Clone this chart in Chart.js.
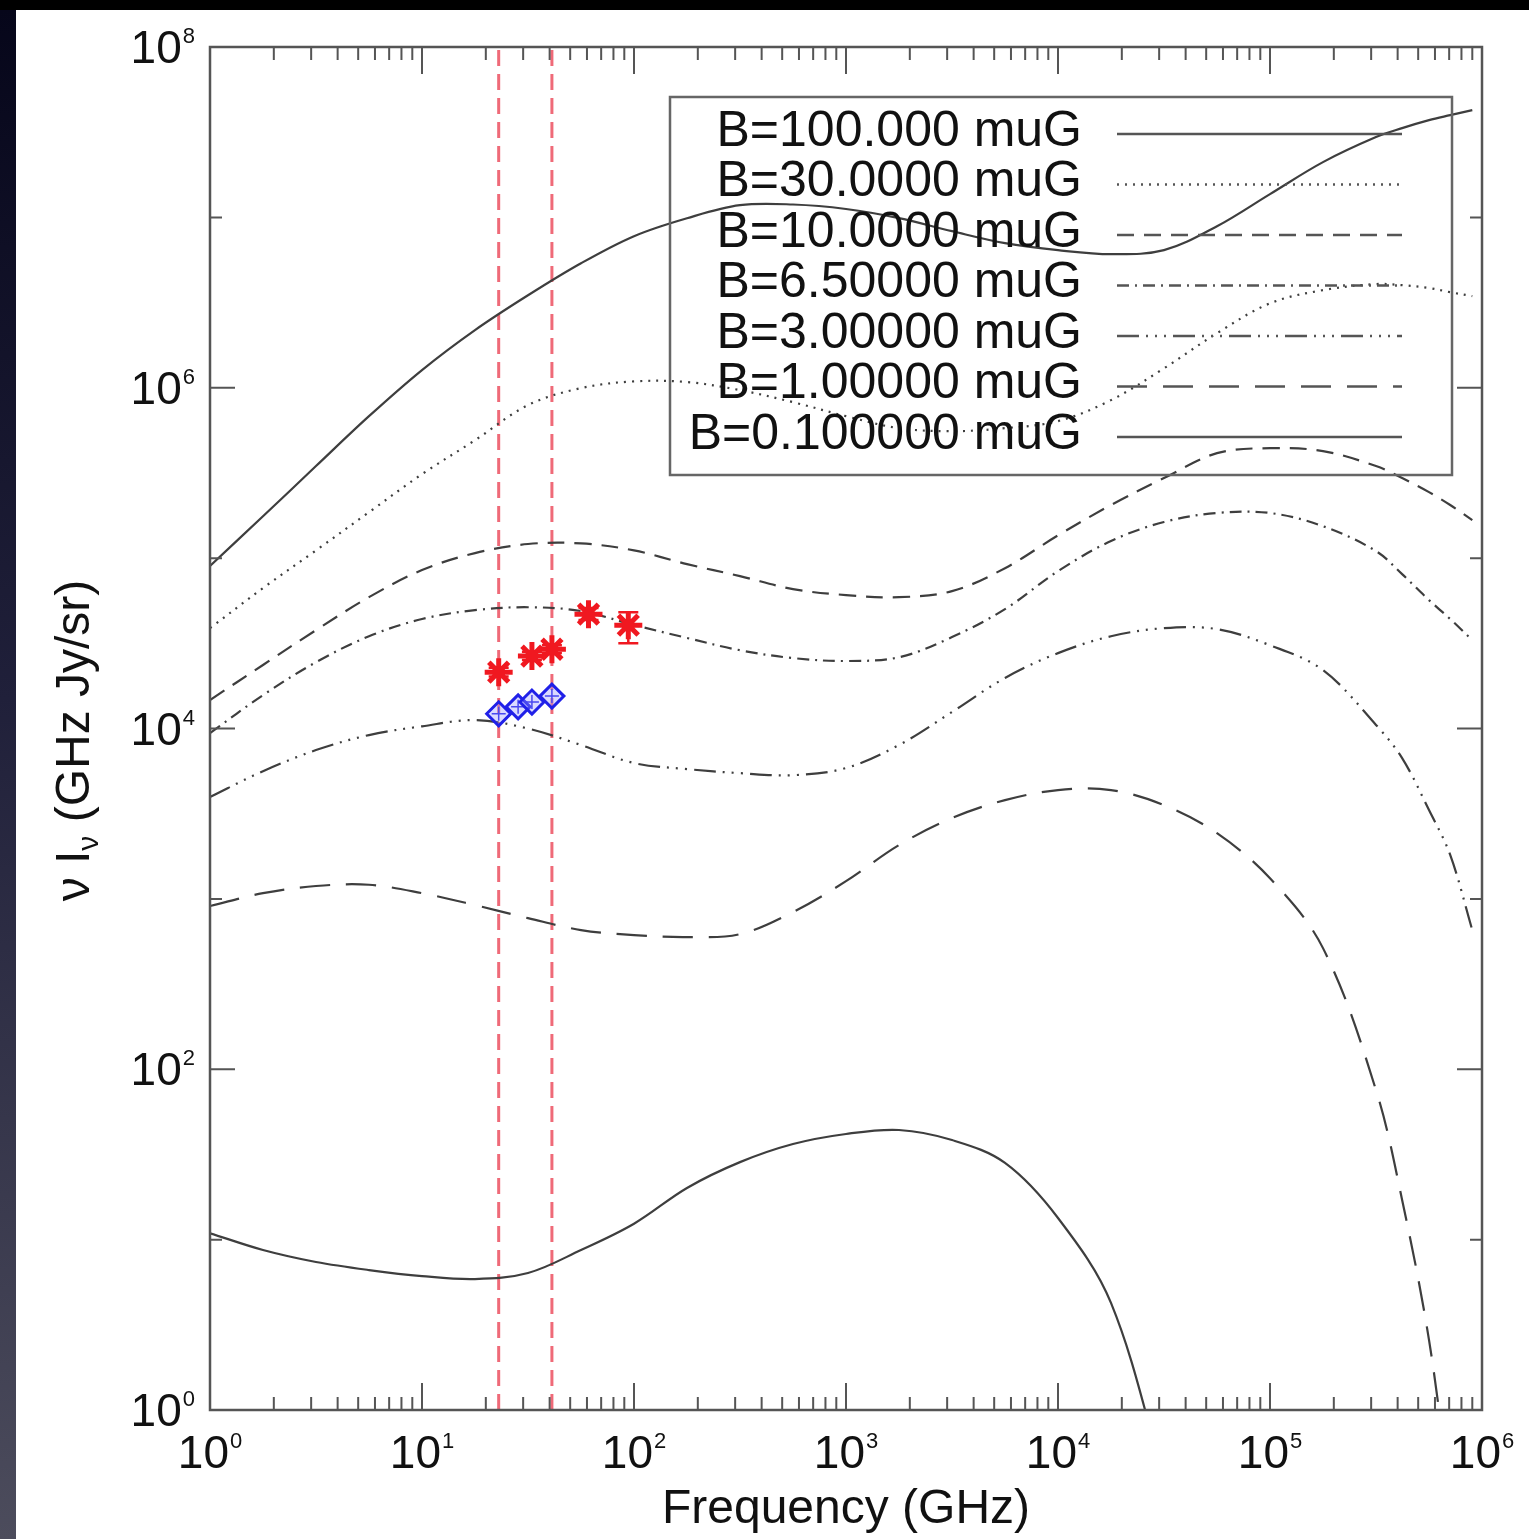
<!DOCTYPE html>
<html>
<head>
<meta charset="utf-8">
<script src="https://cdn.jsdelivr.net/npm/chart.js@4.4.1/dist/chart.umd.min.js"></script>
<style>
  html, body { margin: 0; padding: 0; background: #000; }
  #wrap { position: relative; width: 1529px; height: 1539px; overflow: hidden; }
  #strip { position: absolute; left: 0; top: 10px; width: 16px; bottom: 0;
           background: linear-gradient(#06061a, #20203a 45%, #4c4c5c); }
  #paper { position: absolute; left: 16px; top: 10px; right: 0; bottom: 0; background: #fff; }
  canvas { position: absolute; left: 0; top: 0; }
</style>
</head>
<body>
<div id="wrap">
  <div id="strip"></div>
  <div id="paper"></div>
  <canvas id="sedChart" width="1529" height="1539"></canvas>
</div>
<script>
// frequency samples (GHz) shared by the model curves
const freq = [1, 1.778, 3.162, 5.623, 10, 17.78, 31.62, 56.23, 100, 177.8, 316.2, 562.3,
  1000, 1778, 3162, 5623, 1e4, 1.778e4, 3.162e4, 5.623e4, 1e5, 1.778e5, 3.162e5, 4.2e5,
  5.623e5, 7.08e5, 9e5];

// nu I_nu (GHz Jy/sr) for each field strength
const b100 = [9.0e4, 1.76e5, 3.47e5, 6.81e5, 1.27e6, 2.18e6, 3.49e6, 5.38e6, 7.76e6, 9.89e6,
  1.18e7, 1.19e7, 1.12e7, 9.9e6, 8.3e6, 7.06e6, 6.42e6, 6.08e6, 6.42e6, 8.87e6, 1.37e7,
  2.11e7, 2.96e7, 3.34e7, 3.72e7, 3.98e7, 4.26e7];
const b30 = [3.88e4, 6.67e4, 1.11e5, 1.86e5, 3.11e5, 4.92e5, 7.91e5, 9.95e5, 1.09e6, 1.08e6,
  9.68e5, 8.23e5, 6.81e5, 5.79e5, 5.56e5, 5.79e5, 6.37e5, 8.46e5, 1.30e6, 2.09e6, 3.13e6,
  3.74e6, 4.06e6, 4.00e6, 3.85e6, 3.64e6, 3.45e6];
const b10 = [1.47e4, 2.36e4, 3.78e4, 5.90e4, 8.51e4, 1.07e5, 1.21e5, 1.22e5, 1.11e5, 9.22e4,
  7.84e4, 6.58e4, 6.07e4, 5.90e4, 6.40e4, 8.73e4, 1.36e5, 2.05e5, 2.95e5, 4.13e5, 4.42e5,
  4.25e5, 3.47e5, 2.95e5, 2.44e5, 2.05e5, 1.67e5];
const b6p5 = [9.40e3, 1.57e4, 2.45e4, 3.48e4, 4.39e4, 4.95e4, 5.15e4, 4.89e4, 4.05e4, 3.40e4,
  2.88e4, 2.59e4, 2.49e4, 2.62e4, 3.44e4, 5.02e4, 8.39e4, 1.26e5, 1.63e5, 1.84e5, 1.84e5,
  1.54e5, 1.10e5, 8.05e4, 5.67e4, 4.39e4, 3.30e4];
const b3 = [3.96e3, 5.62e3, 7.47e3, 9.15e3, 1.03e4, 1.12e4, 1.00e4, 8.00e3, 6.27e3, 5.78e3,
  5.47e3, 5.32e3, 5.86e3, 8.00e3, 1.25e4, 1.98e4, 2.77e4, 3.48e4, 3.88e4, 3.83e4, 3.08e4,
  2.20e4, 1.05e4, 6.70e3, 3.32e3, 1.81e3, 656];
const b1 = [908, 1080, 1190, 1210, 1080, 920, 771, 656, 613, 597, 621, 837, 1270, 2070, 2980,
  3800, 4350, 4350, 3550, 2430, 1320, 514, 75.5, 17.1, 2.58, 0.3, null];
const b0p1 = [10.9, 8.69, 7.39, 6.63, 6.11, 5.87, 6.37, 8.69, 12.4, 20.1, 28.5, 36.4, 41.7,
  44.0, 38.4, 28.2, 13.4, 4.25, 0.4, null, null, null, null, null, null, null, null];

const curveLabels = ['B=100.000 muG', 'B=30.0000 muG', 'B=10.0000 muG', 'B=6.50000 muG',
  'B=3.00000 muG', 'B=1.00000 muG', 'B=0.100000 muG'];
const curveValues = [b100, b30, b10, b6p5, b3, b1, b0p1];
const curveDashes = [[], [2, 6], [17, 10], [12, 6, 2, 6], [22, 7, 2, 7, 2, 7, 2, 7], [30, 16], []];

// measured points
const starFreq = [23, 33, 41, 61, 94];
const starFlux = [2.14e4, 2.66e4, 2.92e4, 4.69e4, 4.04e4];
const starLo = [2.02e4, 2.52e4, 2.77e4, 4.33e4, 3.17e4];
const starHi = [2.27e4, 2.82e4, 3.08e4, 5.09e4, 4.82e4];
const diamondFreq = [23, 28.4, 33, 41];
const diamondFlux = [1.22e4, 1.34e4, 1.43e4, 1.55e4];
const bandEdges = [23, 41];

// axis ranges and tick labels (exponents of ten)
const xRange = [1, 1e6];
const yRange = [1, 1e8];
const xTickExps = ['0', '1', '2', '3', '4', '5', '6'];
const yTickExps = ['0', '1', '2', '3', '4', '5', '6', '7', '8'];
const yLabelExps = ['0', '2', '4', '6', '8'];

const FONT = "'Liberation Sans', Arial, Helvetica, sans-serif";
const INK = '#111';
const AXIS = '#555';
const CURVE = '#3e3e3e';
const RED = '#f01820';
const BLUE = '#2020e8';

const datasets = [];

datasets.push({
  label: 'stars', data: starFreq.map((f, i) => ({x: f, y: starFlux[i]})),
  showLine: false, pointStyle: 'star', pointRadius: 14, pointBorderWidth: 5,
  pointBorderColor: RED, pointBackgroundColor: RED, order: 0
});
datasets.push({
  label: 'diamonds', data: diamondFreq.map((f, i) => ({x: f, y: diamondFlux[i]})),
  showLine: false, pointStyle: 'rectRot', pointRadius: 12, pointBorderWidth: 3,
  pointBorderColor: BLUE, pointBackgroundColor: 'rgba(150,150,255,0.35)', order: 0
});
datasets.push({
  label: 'diamond centres', data: diamondFreq.map((f, i) => ({x: f, y: diamondFlux[i]})),
  showLine: false, pointStyle: 'cross', pointRadius: 7, pointBorderWidth: 1.5,
  pointBorderColor: BLUE, order: 0
});

curveValues.forEach((vals, k) => {
  datasets.push({
    label: curveLabels[k],
    data: freq.map((f, i) => ({x: f, y: vals[i]})),
    borderColor: CURVE, borderWidth: 2.2, borderDash: curveDashes[k],
    pointRadius: 0, tension: 0.35, fill: false, order: 2
  });
});

bandEdges.forEach(e => {
  datasets.push({
    label: 'band ' + e,
    data: [{x: e, y: yRange[0]}, {x: e, y: yRange[1]}],
    borderColor: 'rgba(236,80,96,0.85)', borderWidth: 3, borderDash: [16, 8],
    pointRadius: 0, order: 3
  });
});

function drawPower(ctx, exp, x, yBase, align) {
  ctx.font = '46px ' + FONT;
  const wBase = ctx.measureText('10').width;
  ctx.font = '22px ' + FONT;
  const wExp = ctx.measureText(exp).width;
  const total = wBase + 1 + wExp;
  const x0 = align === 'center' ? x - total / 2 : x - total;
  ctx.textAlign = 'left';
  ctx.textBaseline = 'alphabetic';
  ctx.fillStyle = INK;
  ctx.font = '46px ' + FONT;
  ctx.fillText('10', x0, yBase);
  ctx.font = '22px ' + FONT;
  ctx.fillText(exp, x0 + wBase + 1, yBase - 20);
}

const errorBars = {
  id: 'errorBars',
  beforeDatasetsDraw(chart) {
    const {ctx, scales: {x, y}} = chart;
    ctx.save();
    ctx.strokeStyle = RED;
    ctx.lineWidth = 2.5;
    ctx.beginPath();
    starFreq.forEach((f, i) => {
      const px = x.getPixelForValue(f);
      const lo = y.getPixelForValue(starLo[i]);
      const hi = y.getPixelForValue(starHi[i]);
      ctx.moveTo(px, lo); ctx.lineTo(px, hi);
      ctx.moveTo(px - 10, lo); ctx.lineTo(px + 10, lo);
      ctx.moveTo(px - 10, hi); ctx.lineTo(px + 10, hi);
    });
    ctx.stroke();
    ctx.restore();
  }
};

const idlFrame = {
  id: 'idlFrame',
  afterDatasetsDraw(chart) {
    const {ctx, chartArea: a, scales: {x, y}} = chart;
    ctx.save();
    ctx.setLineDash([]);
    ctx.strokeStyle = AXIS;
    ctx.lineWidth = 2.5;
    ctx.strokeRect(a.left, a.top, a.right - a.left, a.bottom - a.top);

    // inward ticks on all four sides
    ctx.lineWidth = 2;
    ctx.beginPath();
    xTickExps.forEach(e => {
      for (let m = 1; m <= 9; m++) {
        const v = m * Math.pow(10, +e);
        if (v > x.max) break;
        const px = x.getPixelForValue(v);
        const len = m === 1 ? 27 : 13;
        ctx.moveTo(px, a.bottom); ctx.lineTo(px, a.bottom - len);
        ctx.moveTo(px, a.top); ctx.lineTo(px, a.top + len);
      }
    });
    yTickExps.forEach(e => {
      const py = y.getPixelForValue(Math.pow(10, +e));
      const len = yLabelExps.includes(e) ? 25 : 12;
      ctx.moveTo(a.left, py); ctx.lineTo(a.left + len, py);
      ctx.moveTo(a.right, py); ctx.lineTo(a.right - len, py);
    });
    ctx.stroke();

    // tick labels
    xTickExps.forEach(e => drawPower(ctx, e, x.getPixelForValue(Math.pow(10, +e)), a.bottom + 58, 'center'));
    yLabelExps.forEach(e => drawPower(ctx, e, a.left - 15, y.getPixelForValue(Math.pow(10, +e)) + 16, 'right'));

    // y title with subscript nu
    ctx.translate(72, (a.top + a.bottom) / 2 + 12);
    ctx.rotate(-Math.PI / 2);
    ctx.fillStyle = INK;
    ctx.textBaseline = 'alphabetic';
    ctx.textAlign = 'left';
    ctx.font = '48px ' + FONT;
    const p1 = 'ν I', p3 = ' (GHz Jy/sr)';
    const w1 = ctx.measureText(p1).width, w3 = ctx.measureText(p3).width;
    ctx.font = '30px ' + FONT;
    const w2 = ctx.measureText('ν').width;
    let s = -(w1 + w2 + w3) / 2;
    ctx.font = '48px ' + FONT;
    ctx.fillText(p1, s, 17);
    ctx.font = '30px ' + FONT;
    ctx.fillText('ν', s + w1, 26);
    ctx.font = '48px ' + FONT;
    ctx.fillText(p3, s + w1 + w2, 17);
    ctx.restore();

    // legend box
    ctx.save();
    const lx0 = a.left + 460, ly0 = a.top + 50, lx1 = a.right - 30, ly1 = a.top + 428;
    ctx.strokeStyle = '#666';
    ctx.lineWidth = 2.5;
    ctx.strokeRect(lx0, ly0, lx1 - lx0, ly1 - ly0);
    ctx.font = '50px ' + FONT;
    ctx.textAlign = 'right';
    ctx.textBaseline = 'middle';
    curveLabels.forEach((lab, k) => {
      const ry = ly0 + 35 + k * 50.5;
      ctx.fillStyle = INK;
      ctx.fillText(lab, lx0 + 412, ry);
      ctx.strokeStyle = '#555';
      ctx.lineWidth = 2.5;
      ctx.setLineDash(curveDashes[k]);
      ctx.beginPath();
      ctx.moveTo(lx0 + 447, ry + 2);
      ctx.lineTo(lx0 + 732, ry + 2);
      ctx.stroke();
    });
    ctx.restore();
  }
};

new Chart(document.getElementById('sedChart'), {
  type: 'line',
  data: {datasets},
  options: {
    responsive: false,
    animation: false,
    events: [],
    layout: {padding: {left: 0, top: 47, right: 47, bottom: 0}},
    plugins: {legend: {display: false}, tooltip: {enabled: false}},
    scales: {
      x: {
        type: 'logarithmic', position: 'bottom', min: xRange[0], max: xRange[1],
        ticks: {display: false}, grid: {display: false}, border: {display: false},
        title: {display: true, text: 'Frequency (GHz)', color: INK, padding: 0,
                font: {family: FONT, size: 48}},
        afterFit: s => { s.height = 129; }
      },
      y: {
        type: 'logarithmic', position: 'left', min: yRange[0], max: yRange[1],
        ticks: {display: false}, grid: {display: false}, border: {display: false},
        afterFit: s => { s.width = 210; }
      }
    }
  },
  plugins: [errorBars, idlFrame]
});
</script>
</body>
</html>
